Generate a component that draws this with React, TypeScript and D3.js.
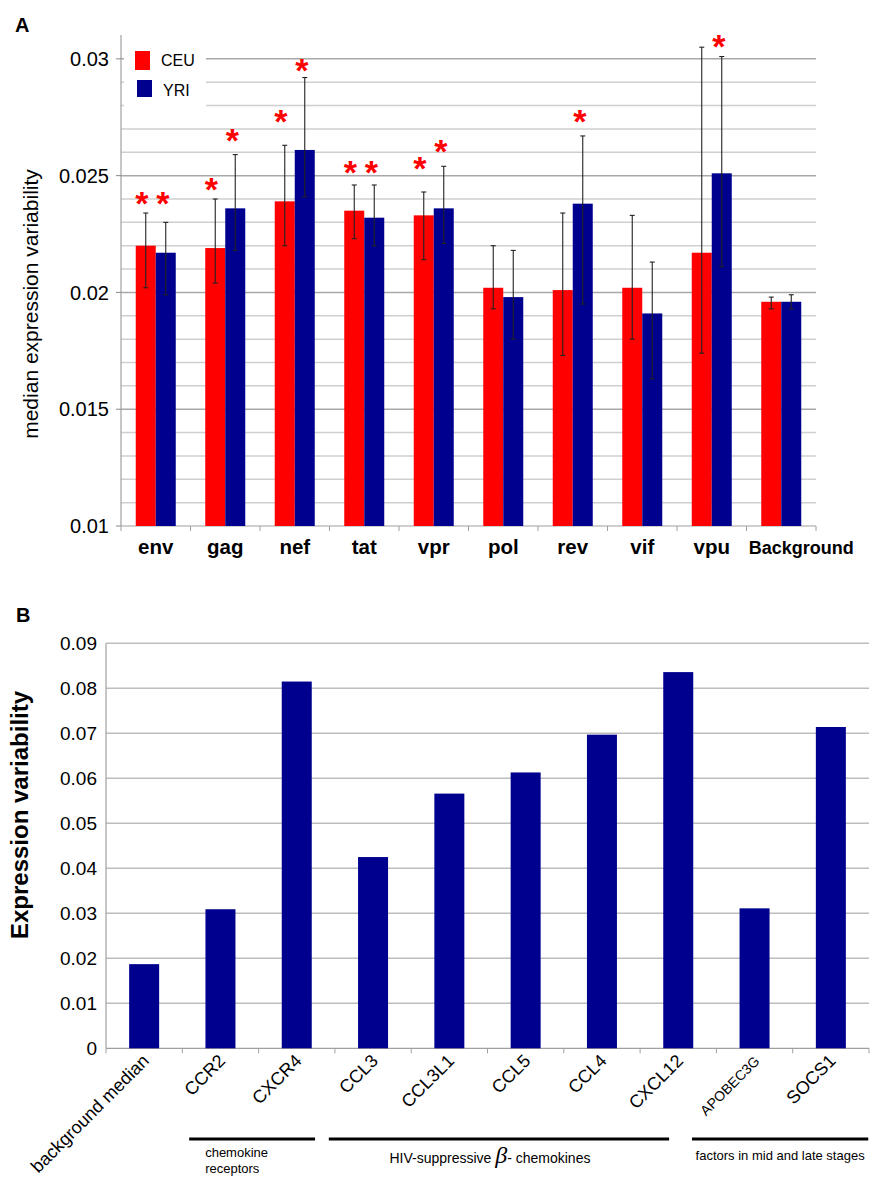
import React from "react";
import * as d3 from "d3";

// ---------- Panel A data ----------
const genes = ["env", "gag", "nef", "tat", "vpr", "pol", "rev", "vif", "vpu", "Background"];
const ceuValues = [0.0220, 0.0219, 0.0239, 0.0235, 0.0233, 0.0202, 0.0201, 0.0202, 0.0217, 0.0196];
const yriValues = [0.0217, 0.0236, 0.0261, 0.0232, 0.0236, 0.0198, 0.0238, 0.0191, 0.0251, 0.0196];
const ceuHigh = [0.0234, 0.0240, 0.0263, 0.0246, 0.0243, 0.0220, 0.0234, 0.0233, 0.0305, 0.0198];
const ceuLow = [0.0202, 0.0204, 0.0220, 0.0223, 0.0214, 0.0193, 0.0173, 0.0180, 0.0174, 0.0193];
const yriHigh = [0.0230, 0.0259, 0.0292, 0.0246, 0.0254, 0.0218, 0.0267, 0.0213, 0.0301, 0.0199];
const yriLow = [0.0199, 0.0218, 0.0241, 0.0220, 0.0221, 0.0180, 0.0195, 0.0163, 0.0211, 0.0193];
// significance asterisk heights (data units), null = none
const ceuStar: (number | null)[] = [0.0241, 0.0247, 0.0276, 0.0254, 0.0256, null, null, null, null, null];
const yriStar: (number | null)[] = [0.0241, 0.0268, 0.0298, 0.0254, 0.0263, null, 0.0276, null, 0.0308, null];
const aTicks = [0.01, 0.015, 0.02, 0.025, 0.03];
const aTickLabels = ["0.01", "0.015", "0.02", "0.025", "0.03"];
const seriesNames = ["CEU", "YRI"];

// ---------- Panel B data ----------
const bLabels = ["background median", "CCR2", "CXCR4", "CCL3", "CCL3L1", "CCL5", "CCL4", "CXCL12", "APOBEC3G", "SOCS1"];
const bValues = [0.0187, 0.0309, 0.0815, 0.0425, 0.0566, 0.0613, 0.0697, 0.0836, 0.0311, 0.0714];
const bTicks = [0, 0.01, 0.02, 0.03, 0.04, 0.05, 0.06, 0.07, 0.08, 0.09];
const bTickLabels = ["0", "0.01", "0.02", "0.03", "0.04", "0.05", "0.06", "0.07", "0.08", "0.09"];
const groupNames = ["chemokine receptors", "HIV-suppressive β- chemokines", "factors in mid and late stages"];
const groupFrom = [1.09, 2.92, 7.68];
const groupTo = [2.74, 7.38, 9.99];

const RED = "#ff0000";
const BLUE = "#00008f";
const FONT = "'Liberation Sans', Arial, sans-serif";

export default function App() {
  // Panel A scales
  const xA = d3.scaleBand<string>().domain(genes).range([121, 816]);
  const yA = d3.scaleLinear().domain([0.01, 0.031]).range([526, 35.5]);
  const barW = 20;
  const minorA = d3.range(11, 31).map((v) => v / 1000);

  // Panel B scales
  const xB = d3.scaleBand<string>().domain(bLabels).range([106, 869]);
  const yB = d3.scaleLinear().domain([0, 0.09]).range([1048.3, 643.3]);
  const barWB = 30;
  const stepB = xB.step();

  const errBar = (x: number, lo: number, hi: number, key: string) => (
    <g key={key} stroke="#222" strokeWidth={1.1}>
      <line x1={x} x2={x} y1={yA(lo)} y2={yA(hi)} />
      <line x1={x - 2.5} x2={x + 2.5} y1={yA(lo)} y2={yA(lo)} />
      <line x1={x - 2.5} x2={x + 2.5} y1={yA(hi)} y2={yA(hi)} />
    </g>
  );

  return (
    <svg width={876} height={1178} style={{ position: "absolute", left: 0, top: 0, background: "#fff" }} fontFamily={FONT}>
      <rect x={0} y={0} width={876} height={1178} fill="#fff" />
      {/* ================= Panel A ================= */}
      <text x={15} y={32} fontSize={20} fontWeight="bold">A</text>
      {minorA.map((v) => (
        <line key={"ga" + v} x1={121} x2={816} y1={yA(v)} y2={yA(v)}
          stroke={Math.round(v * 1000) % 5 === 0 ? "#a8a8a8" : "#cfcfcf"} strokeWidth={1.5} />
      ))}
      {/* legend box */}
      <rect x={124} y={37} width={82} height={79} fill="#fff" />
      <rect x={135} y={51} width={15} height={19} fill={RED} />
      <rect x={137} y={80} width={15} height={17} fill={BLUE} />
      <text x={161} y={66} fontSize={16}>{seriesNames[0]}</text>
      <text x={163} y={96} fontSize={16}>{seriesNames[1]}</text>

      {/* axes */}
      <line x1={121} x2={121} y1={35} y2={526} stroke="#a0a0a0" strokeWidth={1.2} />
      <line x1={121} x2={816} y1={526} y2={526} stroke="#a0a0a0" strokeWidth={1.2} />
      {aTicks.map((t, i) => (
        <g key={"ta" + i}>
          <line x1={116} x2={121} y1={yA(t)} y2={yA(t)} stroke="#888" />
          <text x={109} y={yA(t)} dy="0.36em" textAnchor="end" fontSize={20}>{aTickLabels[i]}</text>
        </g>
      ))}
      {d3.range(genes.length + 1).map((i) => (
        <line key={"xta" + i} x1={121 + i * xA.step()} x2={121 + i * xA.step()} y1={526} y2={531} stroke="#a0a0a0" />
      ))}
      <text transform={`translate(38,304) rotate(-90)`} textAnchor="middle" fontSize={21}>
        median expression variability
      </text>

      {/* bars */}
      {genes.map((g, i) => {
        const c = (xA(g) as number) + xA.bandwidth() / 2;
        return (
          <g key={"ba" + g}>
            <rect x={c - barW} y={yA(ceuValues[i])} width={barW} height={yA(0.01) - yA(ceuValues[i])} fill={RED} />
            <rect x={c} y={yA(yriValues[i])} width={barW} height={yA(0.01) - yA(yriValues[i])} fill={BLUE} />
            {errBar(c - barW / 2, ceuLow[i], ceuHigh[i], "ec" + i)}
            {errBar(c + barW / 2, yriLow[i], yriHigh[i], "ey" + i)}
            {ceuStar[i] !== null && (
              <text x={c - barW / 2 - 4} y={yA(ceuStar[i] as number) + 18} textAnchor="middle" fontSize={34} fontWeight="bold" fill={RED}>*</text>
            )}
            {yriStar[i] !== null && (
              <text x={c + barW / 2 - 3} y={yA(yriStar[i] as number) + 18} textAnchor="middle" fontSize={34} fontWeight="bold" fill={RED}>*</text>
            )}
            <text x={g === "Background" ? c + 20 : c} y={554} textAnchor="middle"
              fontSize={g === "Background" ? 18 : 20.5} fontWeight="bold">{g}</text>
          </g>
        );
      })}

      {/* ================= Panel B ================= */}
      <text x={16} y={622} fontSize={20} fontWeight="bold">B</text>
      {bTicks.slice(1).map((t) => (
        <line key={"gb" + t} x1={106} x2={869} y1={yB(t)} y2={yB(t)} stroke="#bdbdbd" strokeWidth={1.5} />
      ))}
      <line x1={106} x2={106} y1={yB(0.09)} y2={yB(0)} stroke="#a0a0a0" strokeWidth={1.2} />
      <line x1={106} x2={869} y1={yB(0)} y2={yB(0)} stroke="#a0a0a0" strokeWidth={1.2} />
      {d3.range(bLabels.length + 1).map((i) => (
        <line key={"xtb" + i} x1={106 + i * stepB} x2={106 + i * stepB} y1={yB(0)} y2={yB(0) + 5} stroke="#a0a0a0" />
      ))}
      {bTicks.map((t, i) => (
        <text key={"tb" + i} x={97} y={yB(t)} dy="0.36em" textAnchor="end" fontSize={19}>{bTickLabels[i]}</text>
      ))}
      <text transform={`translate(28,815) rotate(-90)`} textAnchor="middle" fontSize={24} fontWeight="bold">
        Expression variability
      </text>
      {bLabels.map((l, i) => {
        const c = (xB(l) as number) + xB.bandwidth() / 2;
        return (
          <g key={"bb" + l}>
            <rect x={c - barWB / 2} y={yB(bValues[i])} width={barWB} height={yB(0) - yB(bValues[i])} fill={BLUE} />
            <text transform={`translate(${c + 6},1062) rotate(-45)`} textAnchor="end"
              fontSize={l === "APOBEC3G" ? 14 : 18}>{l}</text>
          </g>
        );
      })}
      {/* group brackets */}
      {groupNames.map((n, i) => (
        <line key={"gl" + i} x1={106 + groupFrom[i] * stepB} x2={106 + groupTo[i] * stepB} y1={1139} y2={1139}
          stroke="#000" strokeWidth={3} />
      ))}
      <text x={106 + groupFrom[0] * stepB + 16} y={1157} fontSize={13}>chemokine</text>
      <text x={106 + groupFrom[0] * stepB + 16} y={1173} fontSize={13}>receptors</text>
      <text x={(106 + groupFrom[1] * stepB + 106 + groupTo[1] * stepB) / 2 - 9} y={1163} textAnchor="middle" fontSize={14}>
        HIV-suppressive{" "}
        <tspan fontFamily="'Liberation Serif', 'DejaVu Serif', serif" fontStyle="italic" fontSize={24}>β</tspan>
        - chemokines
      </text>
      <text x={(106 + groupFrom[2] * stepB + 106 + groupTo[2] * stepB) / 2} y={1160} textAnchor="middle" fontSize={13}>
        factors in mid and late stages
      </text>
    </svg>
  );
}
